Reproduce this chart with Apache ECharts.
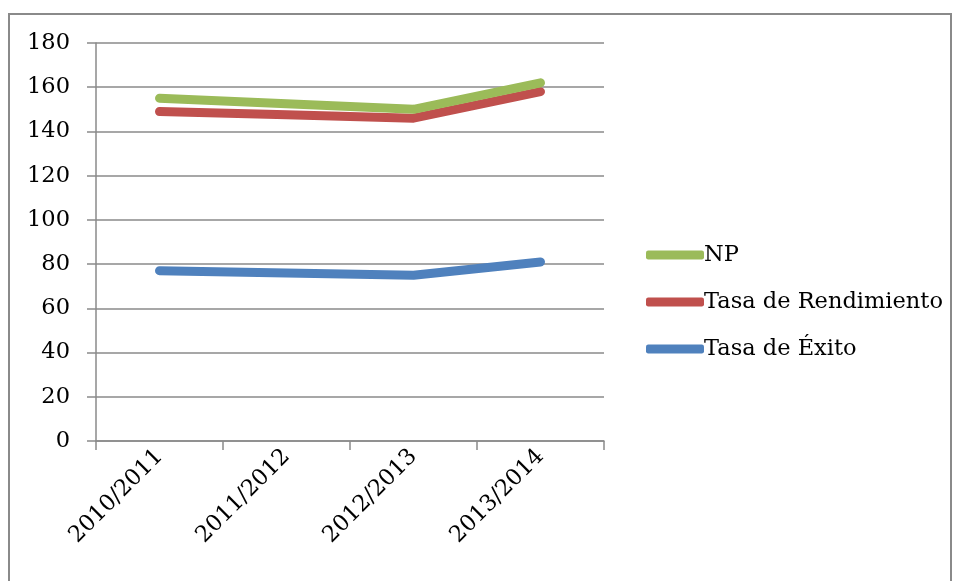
<!DOCTYPE html>
<html>
<head>
<meta charset="utf-8">
<script src="https://cdn.jsdelivr.net/npm/echarts@6/dist/echarts.min.js"></script>
<style>html,body{margin:0;padding:0;background:#fff}#c{width:956px;height:581px}</style>
</head>
<body>
<div id="c"></div>
<script>
const categories = ['2010/2011', '2011/2012', '2012/2013', '2013/2014'];
const npValues = [155, 152.5, 150, 162];
const rendimientoValues = [149, 147.5, 146, 158];
const exitoValues = [77, 76, 75, 81];
const seriesNames = ['NP', 'Tasa de Rendimiento', 'Tasa de Éxito'];
const yTicks = { min: 0, max: 180, interval: 20 };

const font = '"DejaVu Serif", "Liberation Serif", serif';
const colors = { np: '#9bbb59', rend: '#c0504d', exito: '#4f81bd' };
const chart = echarts.init(document.getElementById('c'));
const lineSeries = (name, data, color, z) => ({
  name, type: 'line', data, z,
  symbol: 'none', smooth: false,
  lineStyle: { color, width: 9, cap: 'round', join: 'round' },
  itemStyle: { color },
  emphasis: { disabled: true }
});
chart.setOption({
  animation: false,
  backgroundColor: '#fff',
  graphic: [{
    type: 'rect', shape: { x: 9, y: 14, width: 942, height: 600 },
    style: { fill: 'none', stroke: '#8a8a8a', lineWidth: 2 }, silent: true
  }],
  grid: { left: 96, right: 352, top: 43, bottom: 140, containLabel: false },
  legend: {
    orient: 'vertical', left: 641, top: 238, itemGap: 23,
    itemWidth: 58, itemHeight: 9, icon: 'roundRect',
    data: seriesNames.map((n, i) => ({ name: n, itemStyle: { color: [colors.np, colors.rend, colors.exito][i] } })),
    textStyle: { fontFamily: font, fontSize: 22.5, lineHeight: 24, color: '#000', padding: [0, 0, 0, -5] }
  },
  xAxis: {
    type: 'category', data: categories, boundaryGap: true,
    axisLine: { lineStyle: { color: '#8a8a8a', width: 1.5 } },
    axisTick: { show: true, length: 9, alignWithLabel: false, lineStyle: { color: '#8a8a8a', width: 1.5 } },
    axisLabel: { rotate: 45, fontFamily: font, fontSize: 22.5, color: '#000', margin: 12 }
  },
  yAxis: {
    type: 'value', min: yTicks.min, max: yTicks.max, interval: yTicks.interval,
    axisLine: { show: true, lineStyle: { color: '#8a8a8a', width: 1.5 } },
    axisTick: { show: true, length: 9, lineStyle: { color: '#8a8a8a', width: 1.5 } },
    axisLabel: { fontFamily: font, fontSize: 22.5, color: '#000', margin: 26 },
    splitLine: { lineStyle: { color: '#8a8a8a', width: 1.5 } }
  },
  series: [
    lineSeries(seriesNames[2], exitoValues, colors.exito, 2),
    lineSeries(seriesNames[1], rendimientoValues, colors.rend, 3),
    lineSeries(seriesNames[0], npValues, colors.np, 4)
  ]
});
</script>
</body>
</html>
